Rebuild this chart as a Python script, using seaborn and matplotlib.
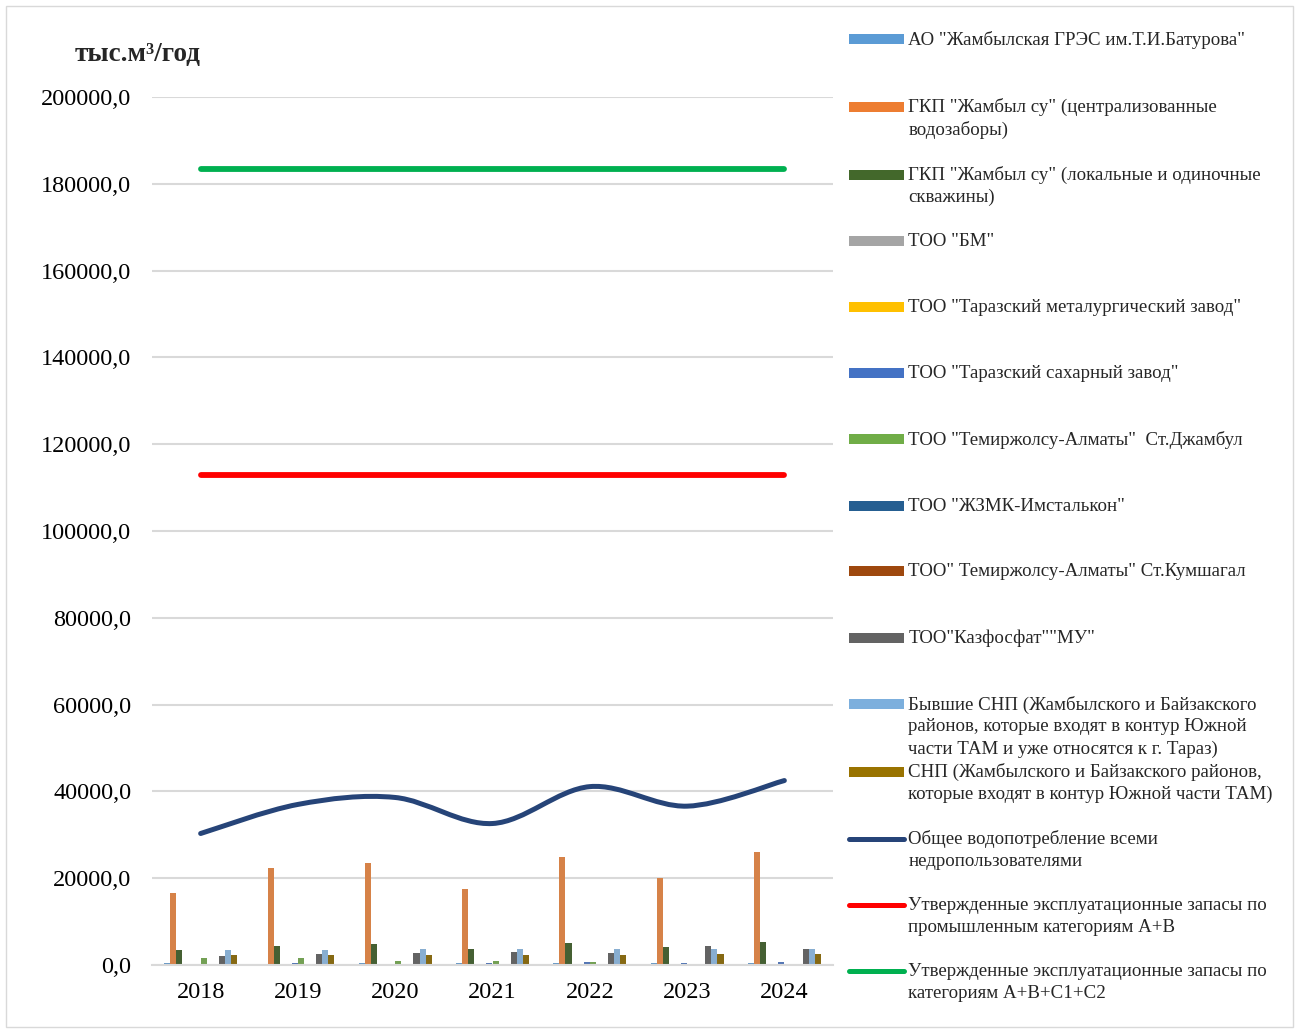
import numpy as np
import pandas as pd
import seaborn as sns
import matplotlib
matplotlib.use("Agg")
import matplotlib.pyplot as plt
import matplotlib.transforms as mtransforms
from matplotlib.lines import Line2D
from matplotlib.patches import Rectangle, PathPatch
from matplotlib.path import Path
from matplotlib.legend_handler import HandlerLine2D

# data, thousand m3 per year
years = ["2018", "2019", "2020", "2021", "2022", "2023", "2024"]

companies = [
    'АО "Жамбылская ГРЭС им.Т.И.Батурова"',
    'ГКП "Жамбыл су" (централизованные\nводозаборы)',
    'ГКП "Жамбыл су" (локальные и одиночные\nскважины)',
    'ТОО "БМ"',
    'ТОО "Таразский металургический завод"',
    'ТОО "Таразский сахарный завод"',
    'ТОО "Темиржолсу-Алматы"  Ст.Джамбул',
    'ТОО "ЖЗМК-Имсталькон"',
    'ТОО" Темиржолсу-Алматы" Ст.Кумшагал',
    'ТОО"Казфосфат""МУ"',
    'Бывшие СНП (Жамбылского и Байзакского\nрайонов, которые входят в контур Южной\nчасти ТАМ и уже относятся к г. Тараз)',
    'СНП (Жамбылского и Байзакского районов,\nкоторые входят в контур Южной части ТАМ)',
]

gres = [400, 300, 500, 400, 400, 400, 400]
central = [16600, 22300, 23600, 17500, 24800, 20000, 26000]
local = [3400, 4400, 4800, 3600, 5000, 4100, 5300]
bm = [0, 0, 0, 0, 0, 100, 0]
metal = [0, 0, 0, 0, 0, 0, 0]
sugar = [300, 400, 0, 500, 600, 500, 600]
tem_dzhambul = [1500, 1500, 1000, 900, 700, 200, 0]
zhzmk = [100, 0, 0, 0, 0, 0, 0]
tem_kumshagal = [0, 0, 0, 0, 0, 0, 0]
kazfosfat = [2100, 2500, 2700, 3000, 2800, 4300, 3800]
former_snp = [3400, 3400, 3600, 3600, 3600, 3700, 3700]
snp = [2300, 2300, 2300, 2300, 2300, 2500, 2500]

total = [30300, 37000, 38600, 32600, 41100, 36600, 42500]
reserves_ab = [112800, 112800, 112800, 112800, 112800, 112800, 112800]
reserves_abc = [183300, 183300, 183300, 183300, 183300, 183300, 183300]

total_label = 'Общее водопотребление всеми\nнедропользователями'
ab_label = 'Утвержденные эксплуатационные запасы по\nпромышленным категориям А+В'
abc_label = 'Утвержденные эксплуатационные запасы по\nкатегориям А+В+С1+С2'

bar_colors = ["#5B9BD5", "#ED7D31", "#43682B", "#A5A5A5", "#FFC000", "#4472C4",
              "#70AD47", "#255E91", "#9E480E", "#636363", "#7CAFDD", "#997300"]

series = [gres, central, local, bm, metal, sugar, tem_dzhambul, zhzmk,
          tem_kumshagal, kazfosfat, former_snp, snp]
rows = []
for name, vals in zip(companies, series):
    for y, v in zip(years, vals):
        rows.append({"year": y, "company": name, "value": v})
df = pd.DataFrame(rows)

sns.set_style("white")
plt.rcParams["font.family"] = ["Liberation Serif", "DejaVu Serif"]

W, H = 1298, 1030
fig = plt.figure(figsize=(W / 100, H / 100), dpi=100)
ax = fig.add_axes([152 / W, 1 - 965 / H, (833 - 152) / W, (965 - 97) / H])

sns.barplot(data=df, x="year", y="value", hue="company", hue_order=companies,
            palette=bar_colors, width=0.75, linewidth=0, legend=False, ax=ax)

pos = np.arange(len(years))
sns.lineplot(x=pos, y=reserves_ab, color="#FF0000", linewidth=4.2, ax=ax,
             solid_capstyle="round")
sns.lineplot(x=pos, y=reserves_abc, color="#00B050", linewidth=4.2, ax=ax,
             solid_capstyle="round")

# smoothed total line (Excel-like smoothing via cubic bezier segments)
pts = np.column_stack([pos, total]).astype(float)
verts = [pts[0]]
codes = [Path.MOVETO]
for i in range(len(pts) - 1):
    p0 = pts[i - 1] if i > 0 else pts[i]
    p1, p2 = pts[i], pts[i + 1]
    p3 = pts[i + 2] if i + 2 < len(pts) else pts[i + 1]
    verts += [p1 + (p2 - p0) / 6, p2 - (p3 - p1) / 6, p2]
    codes += [Path.CURVE4] * 3
ax.add_patch(PathPatch(Path(verts, codes), fill=False, edgecolor="#264478",
                       linewidth=3.6, capstyle="round"))

ax.set_xlim(-0.5, 6.5)
ax.set_ylim(0, 200000)
ax.set_yticks(np.arange(0, 200001, 20000))
ax.set_yticklabels([f"{v:.1f}".replace(".", ",") for v in np.arange(0, 200001, 20000)])
ax.set_xlabel("")
ax.set_ylabel("")
ax.tick_params(axis="both", length=0, labelsize=17.5, colors="black")
ax.tick_params(axis="y", pad=15)
ax.tick_params(axis="x", pad=12)
ax.yaxis.grid(True, color="#D9D9D9", linewidth=1.5)
ax.set_axisbelow(True)
for s in ["top", "right", "left"]:
    ax.spines[s].set_visible(False)
ax.spines["bottom"].set_color("#D9D9D9")
ax.spines["bottom"].set_linewidth(1.5)

fig.text(75 / W, 1 - 54 / H, "тыс.м³/год", fontsize=19.5, fontweight="bold",
         va="center", ha="left")


class FirstLineHandler(HandlerLine2D):
    def __init__(self, shift, **kw):
        super().__init__(**kw)
        self.shift = shift

    def create_artists(self, legend, orig_handle, xdescent, ydescent, width,
                       height, fontsize, trans):
        trans = mtransforms.Affine2D().translate(0, self.shift) + trans
        return super().create_artists(legend, orig_handle, xdescent, ydescent,
                                      width, height, fontsize, trans)


handles = [Line2D([], [], color=c, linewidth=7.2, solid_capstyle="butt")
           for c in bar_colors]
handles += [Line2D([], [], color=c, linewidth=3.6, solid_capstyle="round")
            for c in ["#264478", "#FF0000", "#00B050"]]
labels = companies + [total_label, ab_label, abc_label]
padded = [lab + "\n" * (3 - lab.count("\n") - 1) for lab in labels]

leg = fig.legend(handles, padded, loc="upper left",
                 bbox_to_anchor=(849 / W, 1 - 31 / H), frameon=False,
                 fontsize=13.6, labelspacing=0.275, borderpad=0, borderaxespad=0,
                 handlelength=2.9, handletextpad=0.25,
                 handler_map={Line2D: FirstLineHandler(16.0)})
for t in leg.get_texts():
    t.set_linespacing(1.37)

fig.add_artist(Rectangle((6 / W, 3 / H), (1293 - 6) / W, (1027 - 6) / H,
                         transform=fig.transFigure, fill=False,
                         edgecolor="#D9D9D9", linewidth=1))

fig.savefig("out.png", dpi=100)
